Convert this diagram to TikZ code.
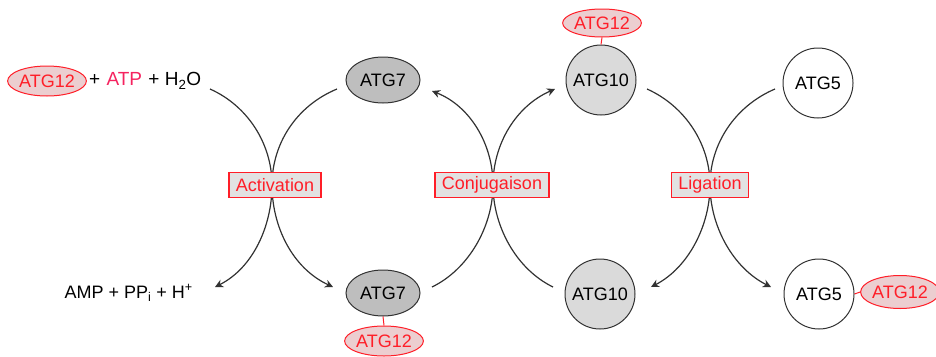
\documentclass[tikz,border=0pt]{standalone}
\usepackage{fontspec}
\setmainfont{Liberation Sans}
\usetikzlibrary{arrows.meta,shapes.geometric}
\definecolor{tagred}{RGB}{255,30,40}
\definecolor{tagfill}{RGB}{236,206,208}
\definecolor{atpcol}{RGB}{245,35,95}
\definecolor{boxfill}{RGB}{226,226,226}
\definecolor{darkfill}{RGB}{190,190,190}
\definecolor{lightfill}{RGB}{218,218,218}
\definecolor{linecol}{RGB}{50,50,50}
\begin{document}
\begin{tikzpicture}[x=1pt,y=-1pt,font=\fontsize{18}{21}\selectfont,
  protE/.style={ellipse,draw=linecol,line width=1pt,fill=darkfill,minimum width=74pt,minimum height=46pt,inner sep=0pt},
  protC/.style={circle,draw=linecol,line width=1pt,minimum size=70pt,inner sep=0pt},
  tag/.style={ellipse,draw=tagred,line width=1pt,fill=tagfill,text=tagred,minimum width=74pt,minimum height=30pt,inner sep=0pt},
  lbl/.style={draw=tagred,line width=1.2pt,fill=boxfill,text=tagred,inner xsep=7pt,inner ysep=0pt,minimum height=25pt},
  link/.style={draw=tagred,line width=1pt},
  arc/.style={draw=linecol,line width=1.2pt},
  arr/.style={arc,-{Stealth[length=8pt,width=8pt,inset=2.5pt]}}
]
\useasboundingbox (0,0) rectangle (936,356);

% left side reactants / products
\node[tag] (t0) at (47,81) {ATG12};
\node[anchor=west,inner sep=0pt,font=\fontsize{19}{22}\selectfont] (react) at (89,81) {+\hspace{0.33em}{\color{atpcol}ATP}\hspace{0.33em}+\hspace{0.28em}H\textsubscript{2}O};
\node[anchor=east,inner sep=0pt] (prod) at (193,293) {AMP + PP\textsubscript{i} + H\textsuperscript{+}};

% proteins
\node[protE] (e7a) at (383,80) {ATG7};
\node[protE] (e7b) at (383,293) {ATG7};
\node[tag] (t7) at (384,341) {ATG12};
\draw[link] (e7b.south) -- (t7.north);

\node[protC,fill=lightfill] (e10a) at (601,80) {ATG10};
\node[tag,minimum height=28pt] (t10) at (602,23) {ATG12};
\draw[link] (t10.south) -- (e10a.north);
\node[protC,fill=lightfill] (e10b) at (600,294) {ATG10};

\node[protC,fill=white] (e5a) at (818,83) {ATG5};
\node[protC,fill=white] (e5b) at (819,294) {ATG5};
\node[tag,minimum height=33pt] (t5) at (900,292) {ATG12};
\draw[link] (e5b.east) -- (t5.west);

% endpoints and crossings
\coordinate (a1) at (210,89);  \coordinate (a2) at (215,287);
\coordinate (a3) at (337,89);  \coordinate (a4) at (333,287);
\coordinate (xa) at (272,185);
\coordinate (c1) at (432,91);  \coordinate (c2) at (432,287);
\coordinate (c3) at (555,89);  \coordinate (c4) at (553,287);
\coordinate (xc) at (493,185);
\coordinate (l1) at (647,89);  \coordinate (l2) at (651,287);
\coordinate (l3) at (775,89);  \coordinate (l4) at (771,287);
\coordinate (xl) at (710,185);

% Activation
\draw[arr] (a1) .. controls (248,106) and (272,144) .. (xa) .. controls (272,226) and (253,268) .. (a2);
\draw[arr] (a3) .. controls (296,106) and (272,144) .. (xa) .. controls (272,226) and (292,268) .. (a4);
% Conjugaison
\draw[arr] (c2) .. controls (469,269) and (493,226) .. (xc) .. controls (493,144) and (470,106) .. (c1);
\draw[arr] (c4) .. controls (516,269) and (493,226) .. (xc) .. controls (493,144) and (516,106) .. (c3);
% Ligation
\draw[arr] (l1) .. controls (685,106) and (710,144) .. (xl) .. controls (710,226) and (688,268) .. (l2);
\draw[arr] (l3) .. controls (735,106) and (710,144) .. (xl) .. controls (710,226) and (733,268) .. (l4);

% labels
\node[lbl] (act) at (275,185) {Activation};
\node[lbl] (conj) at (492,185) {Conjugaison};
\node[lbl] (lig) at (710,185) {Ligation};
\end{tikzpicture}
\end{document}
